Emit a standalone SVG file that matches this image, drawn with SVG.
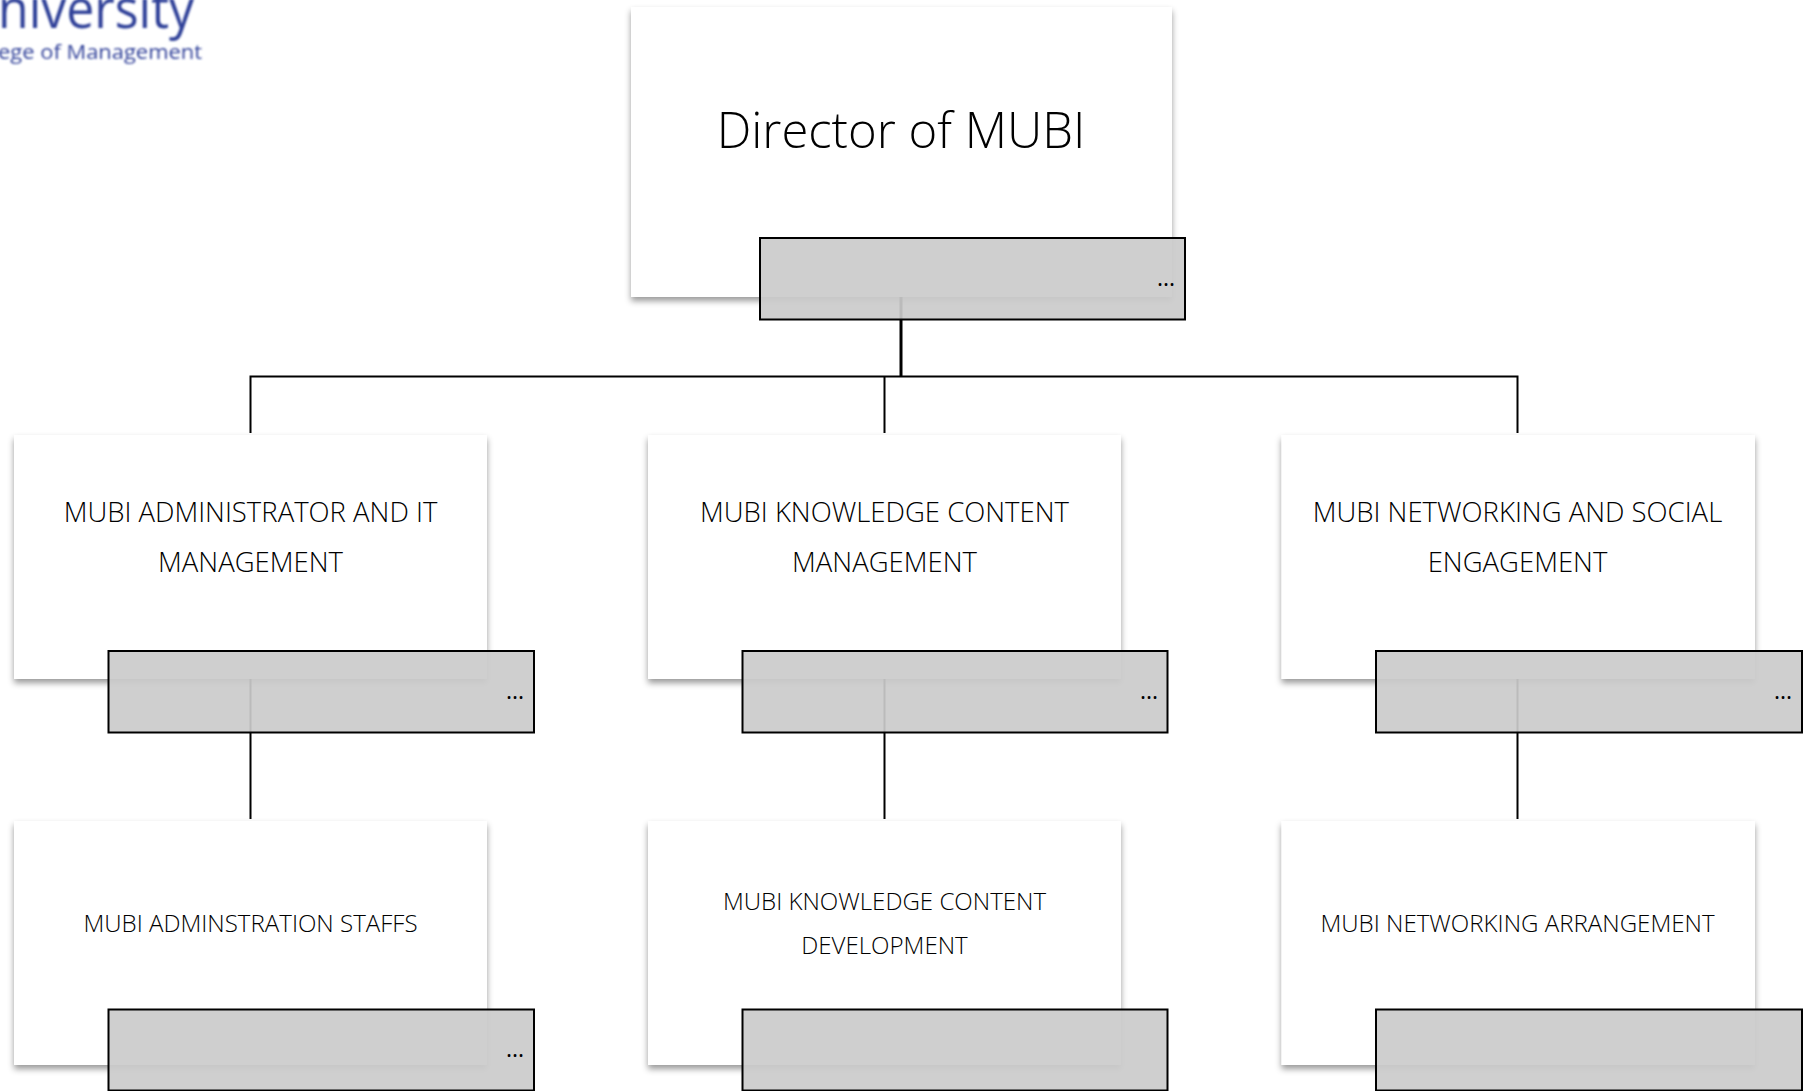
<svg xmlns="http://www.w3.org/2000/svg" width="1808" height="1091" viewBox="0 0 1808 1091">
<style>
text{font-family:"Open Sans","Noto Sans","Liberation Sans",sans-serif;font-weight:300;fill:#000;text-anchor:middle}
.card{fill:#fff;filter:url(#sh)}
.bar{fill:#cbcbcb;fill-opacity:.92;stroke:#000;stroke-width:2}
.c{fill:none;stroke:#000;stroke-width:2}
.l2{font-size:27.5px}
.l3{font-size:24.1px}
.d{font-size:23px;font-weight:400}
.logo{fill:#2f3f98;font-weight:400;text-anchor:start;filter:url(#bl)}
</style>
<defs>
<filter id="sh" x="-5%" y="-5%" width="110%" height="115%"><feDropShadow dx="0" dy="4" stdDeviation="3" flood-color="#000" flood-opacity=".4"/></filter>
<filter id="bl" x="-5%" y="-20%" width="110%" height="140%"><feGaussianBlur stdDeviation=".8"/></filter>
</defs>
<rect width="1808" height="1091" fill="#fff"/>
<g id="logo">
<text class="logo" x="-2" y="28" style="font-size:54px" textLength="196" lengthAdjust="spacingAndGlyphs">niversity</text>
<text class="logo" x="-2" y="58.500" style="font-size:20px;font-weight:500" textLength="204" lengthAdjust="spacingAndGlyphs">ege of Management</text>
</g>
<g id="connectors">
<path class="c" style="stroke-width:3" d="M901 297V377"/>
<path class="c" d="M250.500 433V376.500H1517.500V433M884.500 376.500V433M250.500 678V819M884.500 678V819M1517.500 678V819"/>
</g>
<g id="director"><rect class="card" x="631" y="7" width="541" height="290"/><text x="901" y="148" style="font-size:49px">Director of MUBI</text></g>
<g id="admin"><rect class="card" x="14" y="435" width="473" height="244"/><text class="l2" x="250.500" y="522">MUBI ADMINISTRATOR AND IT</text><text class="l2" x="250.500" y="572">MANAGEMENT</text></g>
<g id="knowledge"><rect class="card" x="648" y="435" width="473" height="244"/><text class="l2" x="884.500" y="522">MUBI KNOWLEDGE CONTENT</text><text class="l2" x="884.500" y="572">MANAGEMENT</text></g>
<g id="networking"><rect class="card" x="1281.500" y="435" width="473.500" height="244"/><text class="l2" x="1517.500" y="522">MUBI NETWORKING AND SOCIAL</text><text class="l2" x="1517.500" y="572">ENGAGEMENT</text></g>
<g id="staffs"><rect class="card" x="14" y="821" width="473" height="244"/><text class="l3" x="250.500" y="931.500">MUBI ADMINSTRATION STAFFS</text></g>
<g id="development"><rect class="card" x="648" y="821" width="473" height="244"/><text class="l3" x="884.500" y="909.500">MUBI KNOWLEDGE CONTENT</text><text class="l3" x="884.500" y="953.500">DEVELOPMENT</text></g>
<g id="arrangement"><rect class="card" x="1281.500" y="821" width="473.500" height="244"/><text class="l3" x="1517.500" y="931.500">MUBI NETWORKING ARRANGEMENT</text></g>
<g id="bar-director"><rect class="bar" x="760" y="238" width="425" height="81.500"/><text class="d" x="1166" y="285.500">...</text></g>
<g id="bar-admin"><rect class="bar" x="108.500" y="651" width="425.500" height="81.500"/><text class="d" x="515" y="698.500">...</text></g>
<g id="bar-knowledge"><rect class="bar" x="742.500" y="651" width="425" height="81.500"/><text class="d" x="1149" y="698.500">...</text></g>
<g id="bar-networking"><rect class="bar" x="1376" y="651" width="426" height="81.500"/><text class="d" x="1783" y="698.500">...</text></g>
<g id="bar-staffs"><rect class="bar" x="108.500" y="1009.500" width="425.500" height="81"/><text class="d" x="515" y="1056.500">...</text></g>
<g id="bar-development"><rect class="bar" x="742.500" y="1009.500" width="425" height="81"/></g>
<g id="bar-arrangement"><rect class="bar" x="1376" y="1009.500" width="426" height="81"/></g>
</svg>
